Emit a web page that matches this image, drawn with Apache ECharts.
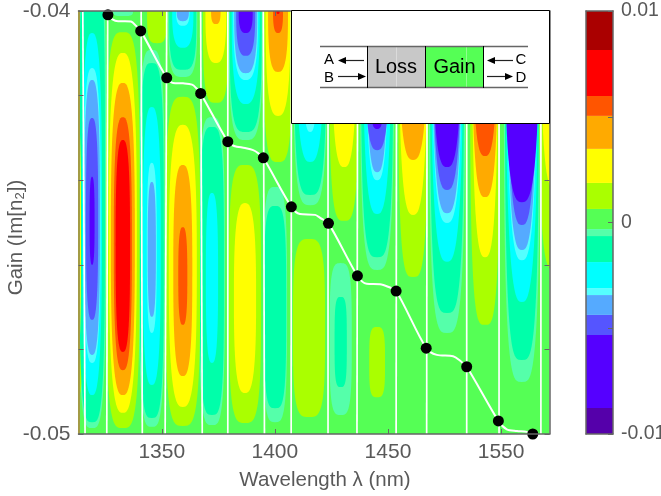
<!DOCTYPE html>
<html><head><meta charset="utf-8">
<style>html,body{margin:0;padding:0;background:#fff}#c{width:661px;height:496px}</style>
<script src="https://cdn.jsdelivr.net/npm/echarts@6/dist/echarts.min.js"></script>
</head><body><div id="c"></div>
<script>
// ---- axes
const xTicks = [1350, 1400, 1450, 1500];
const xTickLabels = ['1350', '1400', '1450', '1550'];
const yTicks = [-0.05, -0.048, -0.046, -0.044, -0.042, -0.04];
const yLabelled = [-0.05, -0.04];
const xRange = [1313.2, 1521.4];
const yRange = [-0.05, -0.04];
// ---- colour scale
const levels = [-0.01,-0.00877,-0.00532,-0.00437,-0.00343,-0.0031,-0.00187,-0.00064,-0.00031,0.00064,0.00187,0.00348,0.00504,0.00598,0.00816,0.01];
const bandColors = ['#5500AA','#5500FF','#5555FF','#55AAFF','#55FFFF','#00FFFF','#00FFAA','#55FFAA','#55FF55','#AAFF00','#FFFF00','#FFAA00','#FF5500','#FF0000','#AA0000'];
const cbTicks = [-0.01, -0.005, 0, 0.005, 0.01];
const cbLabelled = [-0.01, 0, 0.01];
// contour band values
const LG=-0.0005, SP=-0.0012, CY=-0.0025, PC=-0.0033, LB=-0.0039, BL=-0.0048, IN=-0.007;
const YG=0.0012, YE=0.0027, OR=0.0043, OD=0.0055, RE=0.007;
// ---- contour lobes: [lambda centre, rows]; row = [value, half width nm, gain top, gain bottom]
// or [value, half width nm, gain tip] for lobes hanging from the top edge
const lobeLeft = [1313.0, [[YG,2.2,-0.04116,-0.04908],[YE,1.3,-0.04258,-0.04801]]];
const lobeA = [1319.2, [[LG,6.2,-0.03813,-0.04986],[SP,5.7,-0.03856,-0.04972],[CY,4.4,-0.04052,-0.04908],[PC,3.8,-0.04135,-0.04832],[LB,3.5,-0.04163,-0.04813],[BL,2.7,-0.04253,-0.0473],[IN,1.1,-0.04392,-0.046]]];
const lobeB = [1332.8, [[YG,7.5,-0.0405,-0.04986],[YE,6.2,-0.04099,-0.0495],[OR,5.3,-0.0417,-0.04908],[OD,4.0,-0.04251,-0.04849],[RE,3.2,-0.04305,-0.04806]]];
const lobeBt = [1332.9, [[LG,4.4,-0.04012]]];
const lobeC = [1345.6, [[LG,5.7,-0.04092,-0.04983],[SP,5.3,-0.04123,-0.04962],[CY,4.0,-0.04227,-0.04884],[PC,2.2,-0.04359,-0.04761],[LB,1.8,-0.04404,-0.04723]]];
const lobeD = [1359.3, [[YG,7.7,-0.04203,-0.04981],[YE,6.2,-0.04269,-0.04936],[OR,4.2,-0.04364,-0.04863],[OD,2.0,-0.04511,-0.04742]]];
const lobeE = [1372.2, [[LG,5.7,-0.04251,-0.04979],[SP,5.3,-0.04274,-0.04955],[CY,2.7,-0.0443,-0.04832]]];
const lobeF = [1386.8, [[YG,7.1,-0.04364,-0.04974],[YE,4.9,-0.04454,-0.04903]]];
const lobeG = [1400.1, [[LG,5.3,-0.04416,-0.04972],[SP,4.9,-0.04461,-0.04939]]];
const lobeH = [1415.1, [[YG,7.1,-0.04539,-0.0496]]];
const lobeI = [1429.1, [[LG,4.9,-0.04596,-0.04955],[SP,2.7,-0.04676,-0.04889]]];
const lobeJ = [1445.2, [[YG,3.5,-0.04747,-0.04913]]];
const top0 = [1347.9, [[YG,4.4,-0.04076]]];
const top1 = [1359.3, [[LG,6.4,-0.04156],[SP,6.0,-0.04139],[CY,4.7,-0.04087],[PC,3.0,-0.04035],[LB,2.7,-0.04024]]];
const top2 = [1373.9, [[YG,5.7,-0.04217],[YE,4.6,-0.04123],[OR,2.1,-0.04031]]];
const top3 = [1387.1, [[LG,7.5,-0.04305],[SP,7.1,-0.04286],[CY,6.2,-0.0422],[PC,5.5,-0.04163],[LB,5.1,-0.04147],[BL,4.2,-0.04106],[IN,3.1,-0.04052]]];
const top4 = [1401.4, [[YG,6.4,-0.04357],[YE,5.5,-0.04248],[OR,4.4,-0.04144],[OD,2.2,-0.04052],[RE,0.7,-0.04007]]];
const top5 = [1415.6, [[LG,7.5,-0.04459],[SP,7.1,-0.04435],[CY,6.2,-0.04357],[PC,3.5,-0.04286]]];
const top6 = [1430.6, [[YG,6.6,-0.04496],[YE,5.5,-0.04369]]];
const top7 = [1445.2, [[LG,7.5,-0.04612],[SP,7.1,-0.04582],[CY,6.2,-0.0448],[PC,4.9,-0.044],[LB,4.7,-0.04381],[BL,5.7,-0.04329],[IN,4.4,-0.04279]]];
const top8 = [1461.1, [[YG,6.6,-0.04629],[YE,6.2,-0.04482],[OR,6.2,-0.04352]]];
const top9 = [1476.1, [[LG,8.0,-0.04761],[SP,7.5,-0.04714],[CY,7.1,-0.04593],[PC,6.6,-0.04501],[LB,6.4,-0.04478],[BL,6.2,-0.04423],[IN,6.2,-0.04369]]];
const top10 = [1492.9, [[YG,6.6,-0.04742],[YE,5.7,-0.04582],[OR,5.7,-0.0444],[OD,5.3,-0.04343]]];
const top11 = [1509.2, [[LG,8.0,-0.04877],[SP,7.5,-0.04825],[CY,7.1,-0.04688],[PC,6.6,-0.04589],[LB,6.4,-0.04565],[BL,6.2,-0.04506],[IN,7.5,-0.04452]]];
const top12 = [1523.9, [[YG,7.1,-0.04612],[YE,6.2,-0.04423],[OR,4.4,-0.04281]]];
const lobes = [lobeLeft,lobeA,lobeB,lobeBt,lobeC,lobeD,lobeE,lobeF,lobeG,lobeH,lobeI,lobeJ,top0,top1,top2,top3,top4,top5,top6,top7,top8,top9,top10,top11,top12];
// ---- white vertical lines (lambda at the top edge, lambda at the bottom edge)
const whiteTop = [1315.1,1326.1,1340.9,1352.2,1367.2,1379.2,1394.9,1407.3,1423.5,1436.6,1453.8,1467.3,1484.8,1499.1,1517.6];
const whiteBottom = [1316.1,1325.7,1341.4,1351.5,1367.9,1379.2,1395.4,1407.2,1423.5,1436.3,1453.6,1467.1,1484.8,1499.1,1517.6];
// ---- white curve and black points
const curveLambda = [1326.2,1328.0,1330.7,1333.8,1336.4,1338.6,1340.7,1352.2,1355.0,1359.4,1363.4,1365.2,1367.2,1379.2,1382.0,1386.8,1390.4,1392.6,1394.9,1407.3,1411.1,1417.8,1420.0,1423.7,1436.5,1440.6,1446.5,1450.0,1453.6,1466.9,1471.6,1478.8,1481.9,1484.8,1498.8,1502.5,1507.0,1511.4,1514.0];
const curveGain = [-0.04009,-0.04019,-0.04024,-0.04024,-0.04025,-0.04035,-0.04047,-0.04158,-0.0417,-0.04171,-0.04174,-0.04182,-0.04195,-0.04309,-0.04319,-0.04324,-0.04329,-0.04336,-0.04347,-0.04463,-0.0448,-0.04482,-0.04489,-0.04502,-0.04626,-0.04645,-0.04646,-0.04652,-0.04662,-0.04797,-0.04813,-0.04816,-0.04827,-0.04841,-0.04969,-0.04989,-0.04993,-0.04995,-0.05];
const dotLambda = [1326.2,1340.7,1352.2,1367.2,1379.2,1394.9,1407.3,1423.7,1436.5,1453.6,1466.9,1484.8,1498.8,1514.0];
const dotGain = [-0.04009,-0.04047,-0.04158,-0.04195,-0.04309,-0.04347,-0.04463,-0.04502,-0.04626,-0.04662,-0.04797,-0.04841,-0.04969,-0.05];

const TXT = '#595959', AX = '#666666', FONT = '"Liberation Sans", Arial, sans-serif', FS = 21, FSN = 20.5, FSC = 19.5;
function colorOf(v){ for(let i=0;i<bandColors.length;i++){ if(v>=levels[i]&&v<levels[i+1]) return bandColors[i]; } return bandColors[8]; }

const contourRows = [];
lobes.forEach(([lam, rows]) => rows.forEach(r => {
  if (r.length === 3) contourRows.push([r[0], lam, r[1], -0.04, -0.04 - r[2]]);
  else contourRows.push([r[0], lam, r[1], (r[2]+r[3])/2, (r[2]-r[3])/2]);
}));
contourRows.sort((a,b)=>Math.abs(a[0])-Math.abs(b[0]));

function renderContour(params, api){
  const v=api.value(0), lam=api.value(1), hw=api.value(2), gc=api.value(3), hg=api.value(4);
  const p = Math.abs(v) < 0.0015 ? 3.6 : 2.8, pts=[], N=120;
  for(let k=0;k<N;k++){
    const t=k/N*2*Math.PI, c=Math.cos(t), s=Math.sin(t);
    pts.push(api.coord([lam+hw*Math.sign(c)*Math.pow(Math.abs(c),2/p), gc+hg*Math.sign(s)*Math.pow(Math.abs(s),2/p)]));
  }
  return {type:'polygon', shape:{points:pts}, style:{fill:colorOf(v)}};
}
function renderWhite(params, api){
  const a=api.coord([api.value(0),-0.04]), b=api.coord([api.value(1),-0.05]);
  return {type:'line', shape:{x1:a[0],y1:a[1],x2:b[0],y2:b[1]}, style:{stroke:'#fff',lineWidth:1.7}};
}
function renderBand(params, api){
  const a=api.coord([0,api.value(1)]), b=api.coord([1,api.value(0)]);
  return {type:'rect', shape:{x:a[0],y:a[1],width:b[0]-a[0],height:b[1]-a[1]}, style:{fill:bandColors[params.dataIndex]}};
}
const lineOf = (c,w)=>({show:true,onZero:false,lineStyle:{color:c||AX,width:w||1.5}});
const tickIn = vals => ({show:true,inside:true,length:5,customValues:vals,lineStyle:{color:AX,width:1}});
const labelStyle = {color:TXT,fontFamily:FONT,fontSize:FS};
const nameStyle = {color:TXT,fontFamily:FONT,fontSize:FSN};

const arrow = (x1,x2,y)=>{
  const d = x2>x1?1:-1, tip=x2, base=x2-d*8;
  return [
    {type:'line',shape:{x1:x1,y1:y,x2:base,y2:y},style:{stroke:'#222',lineWidth:1.2}},
    {type:'polygon',shape:{points:[[tip,y],[base,y-3.6],[base,y+3.6]]},style:{fill:'#000'}}
  ];
};
const insetText=(t,x,y,s)=>({type:'text',x:x,y:y,style:{text:t,fill:'#000',font:s+'px '+FONT,textAlign:'center',textVerticalAlign:'middle'}});
const inset = [
  {type:'rect',shape:{x:291.5,y:10.5,width:258,height:113},style:{fill:'#fff',stroke:'#000',lineWidth:1}},
  {type:'rect',shape:{x:367.5,y:46.5,width:58,height:41},style:{fill:'#C8C8C8'}},
  {type:'rect',shape:{x:425.5,y:46.5,width:58,height:41},style:{fill:'#55FF55'}},
  {type:'line',shape:{x1:396.5,y1:47,x2:396.5,y2:87},style:{stroke:'rgba(255,255,255,0.35)',lineWidth:1}},
  {type:'line',shape:{x1:466.5,y1:47,x2:466.5,y2:87},style:{stroke:'rgba(255,255,255,0.35)',lineWidth:1}},
  {type:'line',shape:{x1:320,y1:46.5,x2:528,y2:46.5},style:{stroke:'#666',lineWidth:1.4}},
  {type:'line',shape:{x1:320,y1:87.5,x2:528,y2:87.5},style:{stroke:'#666',lineWidth:1.4}},
  {type:'line',shape:{x1:367.5,y1:46,x2:367.5,y2:88},style:{stroke:'#000',lineWidth:1}},
  {type:'line',shape:{x1:425.5,y1:46,x2:425.5,y2:88},style:{stroke:'#000',lineWidth:1}},
  {type:'line',shape:{x1:483.5,y1:46,x2:483.5,y2:88},style:{stroke:'#000',lineWidth:1}},
  insetText('Loss',396,67,20), insetText('Gain',454.5,67,20),
  insetText('A',329,60,15), insetText('B',329,78,15), insetText('C',521,60,15), insetText('D',521,78,15),
  ...arrow(364,338,60.5), ...arrow(338,366,76.5), ...arrow(513,487,60.5), ...arrow(487,513,76.5)
];

const chart = echarts.init(document.getElementById('c'), null, {renderer:'canvas'});
const G0 = {left:78.5, top:11, width:471, height:423, outerBoundsMode:'none', containLabel:false};
const G1 = {left:586, top:11, width:27, height:423, outerBoundsMode:'none', containLabel:false};
chart.setOption({
  animation:false, backgroundColor:'#fff',
  grid:[G0,G1],
  xAxis:[
    {type:'value',gridIndex:0,min:xRange[0],max:xRange[1],position:'bottom',z:10,splitLine:{show:false},axisLine:lineOf(),
     axisTick:tickIn(xTicks),
     axisLabel:{...labelStyle,margin:8,customValues:xTicks,formatter:v=>xTickLabels[xTicks.indexOf(v)]},
     name:'Wavelength λ (nm)',nameLocation:'middle',nameGap:36,nameMoveOverlap:false,nameTextStyle:{...nameStyle,padding:[0,0,0,22]}},
    {type:'value',gridIndex:0,min:xRange[0],max:xRange[1],position:'top',z:10,splitLine:{show:false},axisLine:lineOf(),
     axisTick:tickIn(xTicks),axisLabel:{show:false}},
    {type:'value',gridIndex:1,min:0,max:1,position:'bottom',z:10,splitLine:{show:false},axisLine:lineOf(),axisTick:{show:false},axisLabel:{show:false}},
    {type:'value',gridIndex:1,min:0,max:1,position:'top',z:10,splitLine:{show:false},axisLine:lineOf(),axisTick:{show:false},axisLabel:{show:false}}
  ],
  yAxis:[
    {type:'value',gridIndex:0,min:yRange[0],max:yRange[1],position:'left',z:10,splitLine:{show:false},axisLine:lineOf('#A39B46',2),
     axisTick:tickIn(yTicks),
     axisLabel:{...labelStyle,margin:8,customValues:yLabelled,formatter:v=>v.toFixed(2)},
     name:'{a|Gain (Im[n}{b|2}{a|])}',nameLocation:'middle',nameGap:52,nameMoveOverlap:false,
     nameTextStyle:{padding:[0,30,0,0],rich:{a:{...nameStyle},b:{...nameStyle,fontSize:13,verticalAlign:'bottom',padding:[8,0,0,0]}}}},
    {type:'value',gridIndex:0,min:yRange[0],max:yRange[1],position:'right',z:10,splitLine:{show:false},axisLine:lineOf(),
     axisTick:tickIn(yTicks),axisLabel:{show:false}},
    {type:'value',gridIndex:1,min:-0.01,max:0.01,position:'right',z:10,splitLine:{show:false},axisLine:lineOf(),
     axisTick:tickIn(cbTicks),
     axisLabel:{...labelStyle,fontSize:FSC,margin:8,customValues:cbLabelled,formatter:v=>String(+v.toFixed(2))}},
    {type:'value',gridIndex:1,min:-0.01,max:0.01,position:'left',z:10,splitLine:{show:false},axisLine:lineOf(),axisTick:{show:false},axisLabel:{show:false}}
  ],
  graphic:[{type:'rect',z:0,shape:{x:78.5,y:11,width:471,height:423},style:{fill:'#55FF55'}},
           {type:'group',z:100,children:inset.map(e=>({...e,z:100}))}],
  series:[
    {type:'custom',xAxisIndex:0,yAxisIndex:0,z:2,clip:true,renderItem:renderContour,data:contourRows,encode:{x:1,y:3},silent:true},
    {type:'custom',xAxisIndex:0,yAxisIndex:0,z:3,clip:true,renderItem:renderWhite,data:whiteTop.map((t,i)=>[t,whiteBottom[i]]),encode:{x:0},silent:true},
    {type:'line',xAxisIndex:0,yAxisIndex:0,z:4,smooth:0.3,showSymbol:false,symbol:'none',clip:false,lineStyle:{color:'#fff',width:2},data:curveLambda.map((l,i)=>[l,curveGain[i]]),silent:true},
    {type:'scatter',xAxisIndex:0,yAxisIndex:0,z:5,clip:false,symbolSize:11,itemStyle:{color:'#000',opacity:1},data:dotLambda.map((l,i)=>[l,dotGain[i]]),silent:true},
    {type:'custom',xAxisIndex:2,yAxisIndex:2,z:2,renderItem:renderBand,data:bandColors.map((c,i)=>[levels[i],levels[i+1]]),encode:{y:0},silent:true}
  ]
});
</script></body></html>
